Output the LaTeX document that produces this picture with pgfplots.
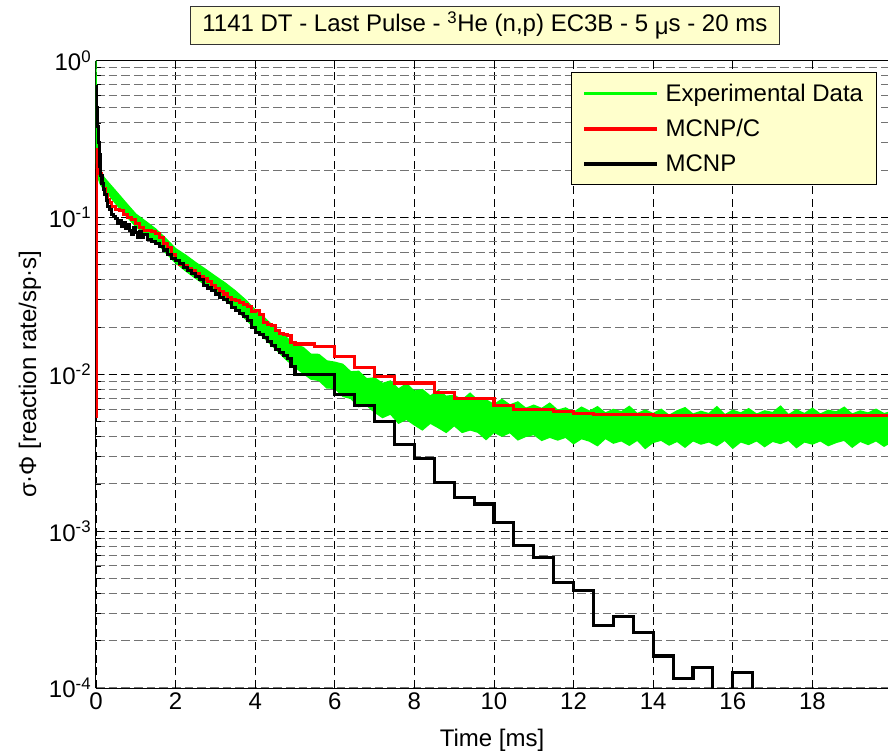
\documentclass[border=0pt]{standalone}
\usepackage{fontspec}
\setmainfont{Liberation Sans}
\usepackage{pgfplots}
\pgfplotsset{compat=1.18}
\usetikzlibrary{calc}
\definecolor{boxyellow}{HTML}{FFFFCC}
\definecolor{mgreen}{HTML}{00FF00}
\definecolor{mred}{HTML}{FF0000}
\newcommand{\bigf}{\fontsize{18}{21.6}\selectfont}
\begin{document}
\begin{tikzpicture}
\begin{axis}[
  name=ax, at={(0,0)}, anchor=south west,
  scale only axis, width=594pt, height=470.6pt,
  xmin=0, xmax=19.9, ymode=log, ymin=1e-4, ymax=1,
  axis x line=box, axis y line=left,
  axis line style={-, line width=0.75pt, black},
  xtick={0,2,4,6,8,10,12,14,16,18},
  xticklabels={0,2,4,6,8,10,12,14,16,18},
  ytick={1e-4,1e-3,1e-2,1e-1,1},
  yticklabels={10\textsuperscript{-4},10\textsuperscript{-3},10\textsuperscript{-2},10\textsuperscript{-1},10\textsuperscript{0}},
  tick align=inside, major tick length=6pt, minor tick length=3.5pt,
  tick style={black, line width=0.6pt},
  ticklabel style={font=\bigf},
  xmajorgrids, ymajorgrids, yminorgrids,
  major grid style={black, line width=0.6pt, dash pattern=on 6pt off 3.5pt},
  minor grid style={black!55, line width=0.8pt, dash pattern=on 6.5pt off 3pt},
  xlabel={Time [ms]},
  xlabel style={at={(axis description cs:0.5,-0.083)}, anchor=center, font=\bigf},
  ylabel={σ·Φ [reaction rate/sp·s]},
  ylabel style={at={(axis description cs:-0.0833,0.5)}, anchor=center, rotate=0, font=\bigf},
  title={1141 DT - Last Pulse - \textsuperscript{3}He (n,p) EC3B - 5 \raisebox{-2pt}{μ}s - 20 ms},
  title style={at={(axis description cs:0.491,1.043)}, anchor=center, draw=black!80, fill=boxyellow,
    minimum width=442pt, minimum height=28pt, inner sep=2pt, line width=0.75pt, font=\bigf},
  legend style={at={(0.986,0.9817)}, anchor=north east, fill=boxyellow, draw=black, line width=0.75pt,
    font=\bigf, inner xsep=8pt, inner ysep=6.5pt, row sep=8pt,
    /tikz/every odd column/.append style={column sep=3pt}},
  legend cell align=left,
  legend image code/.code={\draw[#1, line width=2.4pt] (0pt,0pt) -- (55pt,0pt);},
  every axis plot/.append style={line join=miter},
]
% Experimental data: noisy band (upper edge forward, lower edge backward)
\addplot[draw=mgreen, fill=mgreen, line width=1pt, forget plot] coordinates {
(0,1.0) (0.005,0.6) (0.02,0.35) (0.05,0.25) (0.1,0.205) (0.2,0.18) (0.3,0.168)
(0.5,0.147) (0.75,0.124) (1.0,0.105) (1.25,0.0942) (1.5,0.0843) (1.75,0.0735)
(2.0,0.0632) (2.25,0.0575) (2.5,0.0516) (2.75,0.0467) (3.0,0.0421) (3.25,0.0381)
(3.5,0.0340) (3.75,0.0299) (4.0,0.0258) (4.25,0.0227) (4.5,0.0197) (4.75,0.0175)
(5.0,0.0153) (5.2,0.01487) (5.4,0.01341) (5.6,0.01338) (5.8,0.01217) (6.0,0.01193)
(6.2,0.01158) (6.4,0.01037) (6.6,0.01044) (6.8,0.00936) (7.0,0.00948) (7.2,0.00874)
(7.4,0.00906) (7.6,0.00804) (7.8,0.00870) (8.0,0.00780) (8.2,0.00799) (8.4,0.00726)
(8.6,0.00789) (8.8,0.00724) (9.0,0.00735) (9.2,0.00686) (9.4,0.00758) (9.6,0.00677)
(9.8,0.00687) (10.0,0.00641) (10.2,0.00692) (10.4,0.00637) (10.6,0.00666) (10.8,0.00607)
(11.0,0.00635) (11.2,0.00605) (11.4,0.00654) (11.6,0.00590) (11.8,0.00610) (12.0,0.00571)
(12.2,0.00617) (12.4,0.00581) (12.6,0.00621) (12.8,0.00566) (13.0,0.00597) (13.2,0.00576)
(13.4,0.00624) (13.6,0.00561) (13.8,0.00591) (14.0,0.00561) (14.2,0.00598) (14.4,0.00547)
(14.6,0.00584) (14.8,0.00612) (15.0,0.00557) (15.2,0.00580) (15.4,0.00561) (15.6,0.00621)
(15.8,0.00552) (16.0,0.00589) (16.2,0.00566) (16.4,0.00603) (16.6,0.00557) (16.8,0.00584)
(17.0,0.00570) (17.2,0.00626) (17.4,0.00552) (17.6,0.00593) (17.8,0.00561) (18.0,0.00607)
(18.2,0.00557) (18.4,0.00589) (18.6,0.00575) (18.8,0.00616) (19.0,0.00557) (19.2,0.00584)
(19.4,0.00566) (19.6,0.00598) (19.8,0.00561) (20.0,0.00580)
(20.0,0.00371) (19.8,0.00348) (19.6,0.00377) (19.4,0.00357) (19.2,0.00374) (19.0,0.00343)
(18.8,0.00380) (18.6,0.00368) (18.4,0.00351) (18.2,0.00377) (18.0,0.00359) (17.8,0.00371)
(17.6,0.00341) (17.4,0.00380) (17.2,0.00362) (17.0,0.00374) (16.8,0.00346) (16.6,0.00377)
(16.4,0.00357) (16.2,0.00371) (16.0,0.00338) (15.8,0.00380) (15.6,0.00351) (15.4,0.00371)
(15.2,0.00359) (15.0,0.00377) (14.8,0.00343) (14.6,0.00374) (14.4,0.00354) (14.2,0.00380)
(14.0,0.00368) (13.8,0.00337) (13.6,0.00380) (13.4,0.00353) (13.2,0.00377) (13.0,0.00364)
(12.8,0.00390) (12.6,0.00351) (12.4,0.00375) (12.2,0.00389) (12.0,0.00361) (11.8,0.00397)
(11.6,0.00381) (11.4,0.00397) (11.2,0.00379) (11.0,0.00413) (10.8,0.00402) (10.6,0.00382)
(10.4,0.00425) (10.2,0.00403) (10.0,0.00427) (9.8,0.00384) (9.6,0.00427) (9.4,0.00442)
(9.2,0.00426) (9.0,0.00471) (8.8,0.00426) (8.6,0.00457) (8.4,0.00488) (8.2,0.00442)
(8.0,0.00476) (7.8,0.00516) (7.6,0.00488) (7.4,0.00558) (7.2,0.00530) (7.0,0.00574)
(6.8,0.00634) (6.6,0.00622) (6.4,0.00702) (6.2,0.00724) (6.0,0.00815) (5.8,0.00818)
(5.6,0.00914) (5.4,0.00932) (5.2,0.01016) (5.0,0.0111)
(4.75,0.0126) (4.5,0.0146) (4.25,0.0168) (4.0,0.0196) (3.75,0.0226) (3.5,0.0264)
(3.25,0.0296) (3.0,0.0334) (2.75,0.0371) (2.5,0.0410) (2.25,0.0457) (2.0,0.0514)
(1.75,0.0597) (1.5,0.0702) (1.25,0.0783) (1.0,0.0875) (0.75,0.103) (0.5,0.122)
(0.3,0.142) (0.2,0.15) (0.1,0.165) (0.05,0.18) (0.02,0.2) (0.005,0.22) (0,0.22)
} -- cycle;
% MCNP/C
\addplot[mred, line width=2.3pt, const plot, forget plot] coordinates {
(0,0.0053) (0,0.27) (0.02,0.25) (0.04,0.23) (0.06,0.215) (0.08,0.20) (0.10,0.19)
(0.13,0.175) (0.16,0.165) (0.20,0.152) (0.25,0.140) (0.30,0.130) (0.35,0.124)
(0.40,0.118) (0.50,0.113) (0.60,0.110) (0.70,0.104) (0.80,0.100) (0.90,0.097)
(1.00,0.092) (1.10,0.086) (1.20,0.083) (1.30,0.082) (1.40,0.081) (1.50,0.079)
(1.60,0.074) (1.70,0.068) (1.80,0.064) (1.90,0.058) (2.00,0.053) (2.10,0.050)
(2.20,0.049) (2.30,0.0475) (2.40,0.046) (2.50,0.044) (2.60,0.042) (2.70,0.0405)
(2.80,0.039) (2.90,0.037) (3.00,0.035) (3.10,0.0335) (3.20,0.0325) (3.30,0.031)
(3.40,0.030) (3.50,0.0295) (3.60,0.0285) (3.70,0.0278) (3.80,0.0272) (3.90,0.0250)
(4.00,0.0255) (4.10,0.0239) (4.20,0.0215) (4.30,0.0208) (4.40,0.0205) (4.50,0.0190)
(4.60,0.0183) (4.70,0.0180) (4.80,0.0176) (4.90,0.0160) (5.00,0.0156) (5.50,0.0150)
(6.00,0.0129) (6.50,0.0110) (7.00,0.0097) (7.50,0.0088) (8.50,0.0077) (9.00,0.0070)
(10.00,0.0063) (10.50,0.0060) (11.50,0.0058) (12.00,0.00565) (12.50,0.00555)
(14.00,0.00544) (20.0,0.00544)
};
% MCNP
\addplot[black, line width=2.3pt, const plot, forget plot] coordinates {
(0,0.68) (0.02,0.50) (0.04,0.38) (0.06,0.30) (0.08,0.25) (0.10,0.21) (0.12,0.185)
(0.15,0.165) (0.18,0.150) (0.22,0.140) (0.26,0.128) (0.30,0.118) (0.35,0.112)
(0.40,0.105) (0.45,0.101) (0.50,0.098) (0.55,0.092) (0.60,0.096) (0.65,0.088)
(0.70,0.093) (0.75,0.085) (0.80,0.090) (0.85,0.082) (0.90,0.078) (0.95,0.086)
(1.00,0.080) (1.05,0.075) (1.10,0.081) (1.15,0.074) (1.20,0.078) (1.30,0.072)
(1.40,0.070) (1.50,0.068) (1.60,0.065) (1.70,0.062) (1.80,0.058) (1.90,0.055)
(2.00,0.053) (2.10,0.051) (2.20,0.048) (2.30,0.046) (2.40,0.044) (2.50,0.042)
(2.60,0.040) (2.70,0.037) (2.80,0.0355) (2.90,0.034) (3.00,0.0325) (3.10,0.031)
(3.20,0.0298) (3.30,0.0285) (3.40,0.0268) (3.50,0.0255) (3.60,0.0245) (3.70,0.0232)
(3.80,0.0220) (3.90,0.0200) (4.00,0.0185) (4.10,0.0180) (4.20,0.0172) (4.30,0.0162)
(4.40,0.0152) (4.50,0.0143) (4.60,0.0137) (4.70,0.0131) (4.80,0.0126) (4.90,0.0112)
(5.00,0.0099) (6.00,0.0074) (6.50,0.0063) (7.00,0.0050) (7.50,0.00356) (8.00,0.00292)
(8.50,0.00205) (9.00,0.00163) (9.50,0.00149) (10.00,0.00114) (10.50,0.000811)
(11.00,0.00068) (11.50,0.000472) (12.00,0.00042) (12.50,0.00025) (13.00,0.000287)
(13.50,0.000225) (14.00,0.00016) (14.50,0.000115) (15.00,0.000136) (15.50,0.000001)
(16.00,0.000125) (16.50,0.000001) (20.0,0.000001)
};
\addlegendimage{mgreen}\addlegendentry{Experimental Data}
\addlegendimage{mred}\addlegendentry{MCNP/C}
\addlegendimage{black}\addlegendentry{MCNP}
\end{axis}
\pgfresetboundingbox
\path ($(ax.south west)+(-72pt,-50.25pt)$) rectangle ($(ax.north east)+(0pt,45.4pt)$);
\end{tikzpicture}
\end{document}
